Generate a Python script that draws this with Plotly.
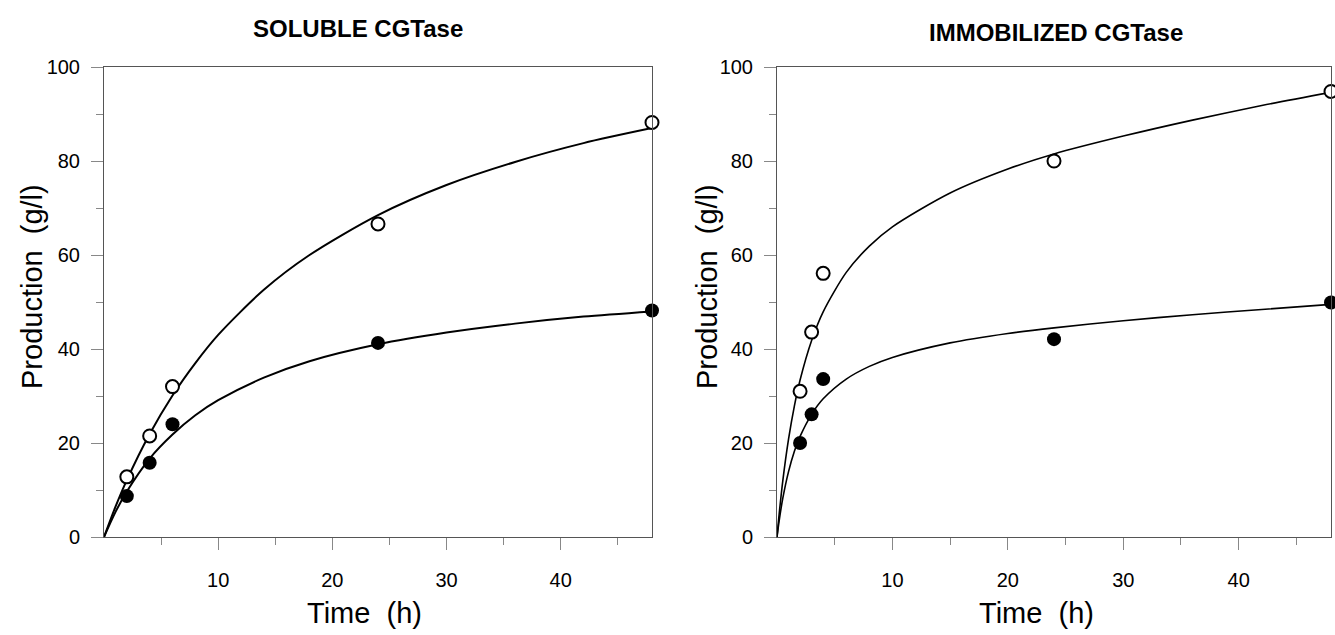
import plotly.graph_objects as go

# ---- data ----
time_h = [2, 4, 6, 24, 48]
sol_open = [12.8, 21.5, 32.0, 66.6, 88.2]
sol_filled = [8.7, 15.8, 24.0, 41.3, 48.2]

time_imm = [2, 3, 4, 24, 48]
imm_open = [31.0, 43.6, 56.1, 80.0, 94.8]
imm_filled = [20.0, 26.1, 33.6, 42.1, 49.9]

# fitted curves
fit_x_sol = [0, 1, 2, 4, 6, 8, 10, 14, 18, 24, 30, 36, 42, 48]
fit_sol_open = [0, 6.4, 12.1, 21.9, 30.1, 37.0, 43.0, 52.6, 60.0, 68.5, 74.9, 79.8, 83.8, 87.0]
fit_sol_filled = [0, 5.3, 9.7, 16.7, 21.8, 25.9, 29.1, 33.9, 37.4, 41.0, 43.5, 45.4, 46.9, 48.0]

fit_x_imm = [0, 0.1, 0.25, 0.5, 1, 1.5, 2, 3, 4, 6, 8, 10, 15, 20, 24, 30, 36, 42, 48]
fit_imm_open = [0, 2.7, 6.4, 11.9, 20.8, 27.8, 33.4, 41.8, 47.9, 56.3, 61.9, 66.0, 73.2, 78.3, 81.5, 85.3, 88.7, 91.8, 94.6]
fit_imm_filled = [0, 1.9, 4.5, 8.2, 13.9, 18.2, 21.4, 26.1, 29.4, 33.6, 36.3, 38.2, 41.3, 43.3, 44.5, 46.0, 47.3, 48.4, 49.5]

titles = ["SOLUBLE CGTase", "IMMOBILIZED CGTase"]
x_title = "Time\u00a0 (h)"
y_title = "Production\u00a0 (g/l)"
x_major = [10, 20, 30, 40]
x_minor = [5, 15, 25, 35, 45]
y_major = [0, 20, 40, 60, 80, 100]
y_minor = [10, 30, 50, 70, 90]

W, H = 1335, 635
FONT = "Liberation Sans, Arial, sans-serif"

fig = go.Figure()

def add_panel(xa, ya, fx, f_open, f_filled, tx, d_open, d_filled, lw):
    for fy in (f_open, f_filled):
        fig.add_trace(go.Scatter(x=fx, y=fy, mode="lines",
                                 line=dict(color="black", width=lw, shape="spline", smoothing=0.8),
                                 xaxis=xa, yaxis=ya, showlegend=False, hoverinfo="skip"))
    fig.add_trace(go.Scatter(x=tx, y=d_open, mode="markers", cliponaxis=False,
                             marker=dict(symbol="circle", size=13, color="white", line=dict(color="black", width=2)),
                             xaxis=xa, yaxis=ya, showlegend=False))
    fig.add_trace(go.Scatter(x=tx, y=d_filled, mode="markers", cliponaxis=False,
                             marker=dict(symbol="circle", size=14, color="black", line=dict(color="black", width=0)),
                             xaxis=xa, yaxis=ya, showlegend=False))

add_panel("x", "y", fit_x_sol, fit_sol_open, fit_sol_filled, time_h, sol_open, sol_filled, 2)
add_panel("x2", "y2", fit_x_imm, fit_imm_open, fit_imm_filled, time_imm, imm_open, imm_filled, 1.6)

def xaxis_cfg(domain):
    return dict(domain=domain, range=[0, 48], showgrid=False, zeroline=False, automargin=False,
                showline=True, linecolor="#555", linewidth=1, mirror=True,
                tickmode="array", tickvals=x_major, ticks="outside", ticklen=12, tickcolor="#888",
                ticklabelstandoff=13,
                minor=dict(tickvals=x_minor, ticks="outside", ticklen=7, tickcolor="#888"),
                tickfont=dict(family=FONT, size=20, color="black"))

def yaxis_cfg(domain):
    return dict(domain=domain, range=[0, 100], showgrid=False, zeroline=False, automargin=False,
                showline=True, linecolor="#555", linewidth=1, mirror=True,
                tickmode="array", tickvals=y_major, ticks="outside", ticklen=12, tickcolor="#888",
                ticklabelstandoff=7,
                minor=dict(tickvals=y_minor, ticks="outside", ticklen=7, tickcolor="#888"),
                tickfont=dict(family=FONT, size=20, color="black"))

yd = [98 / H, 568 / H]
fig.update_layout(
    width=W, height=H, autosize=False,
    margin=dict(l=0, r=0, t=0, b=0, pad=0, autoexpand=False),
    paper_bgcolor="white", plot_bgcolor="white",
    xaxis=xaxis_cfg([104 / W, 652 / W]),
    yaxis=yaxis_cfg(yd),
    xaxis2=xaxis_cfg([777 / W, 1331 / W]),
    yaxis2=yaxis_cfg(yd),
    font=dict(family=FONT, color="black"),
)
fig.update_layout(xaxis2=dict(anchor="y2"), yaxis2=dict(anchor="x2"))

ann = [
    dict(text="<b>%s</b>" % titles[0], x=358 / W, y=1 - 29 / H, font=dict(size=24)),
    dict(text="<b>%s</b>" % titles[1], x=1056 / W, y=1 - 32 / H, font=dict(size=24)),
    dict(text=x_title, x=364 / W, y=1 - 613 / H, font=dict(size=29)),
    dict(text=x_title, x=1036 / W, y=1 - 613 / H, font=dict(size=29)),
    dict(text=y_title, x=32 / W, y=1 - 287 / H, font=dict(size=29), textangle=-90),
    dict(text=y_title, x=707 / W, y=1 - 287 / H, font=dict(size=29), textangle=-90),
]
for a in ann:
    a.update(xref="paper", yref="paper", xanchor="center", yanchor="middle", showarrow=False)
    a["font"]["family"] = FONT
    a["font"]["color"] = "black"
fig.update_layout(annotations=ann)

fig.write_html("out.html", config={"displayModeBar": False},
               post_script="document.body.style.margin='0';")
